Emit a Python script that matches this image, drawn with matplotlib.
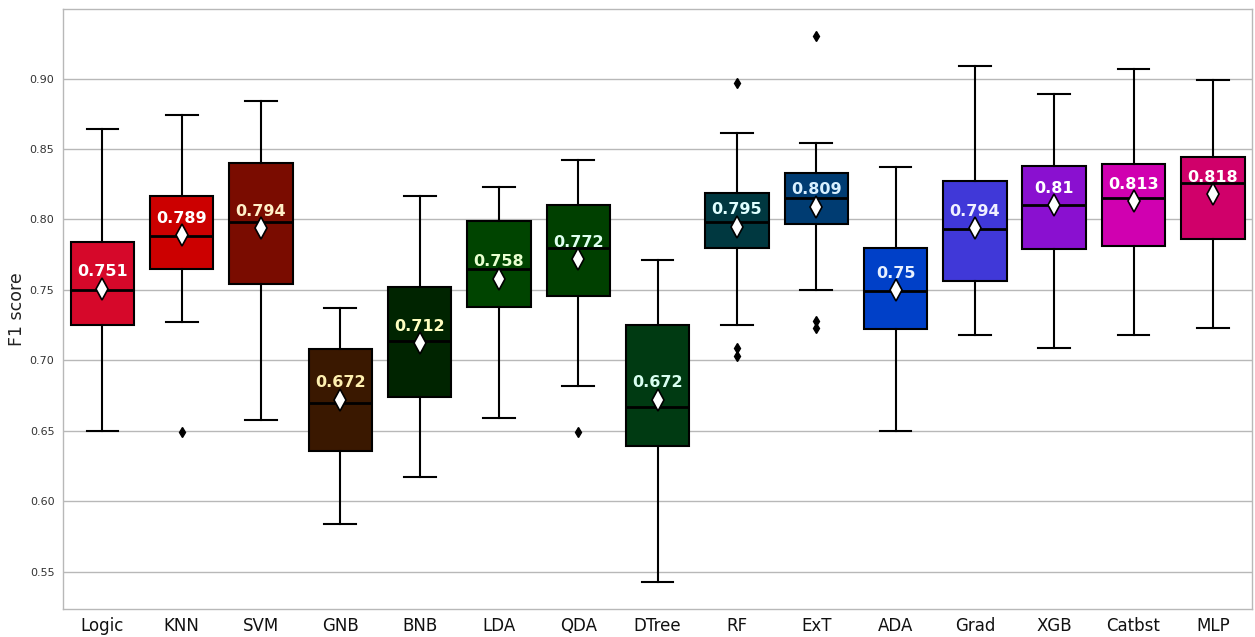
import matplotlib
matplotlib.use("Agg")
import matplotlib.pyplot as plt

models = ["Logic", "KNN", "SVM", "GNB", "BNB", "LDA", "QDA", "DTree", "RF", "ExT",
          "ADA", "Grad", "XGB", "Catbst", "MLP"]
whislo = [0.650, 0.727, 0.658, 0.584, 0.617, 0.659, 0.682, 0.543, 0.725, 0.750,
          0.650, 0.718, 0.709, 0.718, 0.723]
q1 = [0.725, 0.765, 0.754, 0.636, 0.674, 0.738, 0.746, 0.639, 0.780, 0.797,
      0.722, 0.756, 0.779, 0.781, 0.786]
med = [0.750, 0.788, 0.798, 0.670, 0.714, 0.765, 0.780, 0.667, 0.798, 0.815,
       0.749, 0.793, 0.810, 0.815, 0.826]
q3 = [0.784, 0.817, 0.840, 0.708, 0.752, 0.799, 0.810, 0.725, 0.819, 0.833,
      0.780, 0.827, 0.838, 0.839, 0.844]
whishi = [0.864, 0.874, 0.884, 0.737, 0.817, 0.823, 0.842, 0.771, 0.861, 0.854,
          0.837, 0.909, 0.889, 0.907, 0.899]
means = [0.751, 0.789, 0.794, 0.672, 0.712, 0.758, 0.772, 0.672, 0.795, 0.809,
         0.750, 0.794, 0.810, 0.813, 0.818]
fliers = [[], [0.649], [], [], [], [], [0.649], [], [0.897, 0.709, 0.703],
          [0.930, 0.728, 0.723], [], [], [], [], []]
box_colors = ["#d6082a", "#cc0000", "#7a0c00", "#3a1800", "#002400", "#004400",
              "#004000", "#003a12", "#003840", "#003c72", "#0040c8", "#4038d8",
              "#8a10d0", "#d000b0", "#d0006a"]
text_colors = ["#ffffff", "#ffffff", "#fff0c8", "#fff0b0", "#ffffc0", "#e8ffd0",
               "#e0fff0", "#d8fff0", "#e0ffff", "#d8f0ff", "#e8f0ff", "#f0f0ff",
               "#ffffff", "#ffffff", "#ffffff"]

stats = []
for i, m in enumerate(models):
    stats.append(dict(label=m, whislo=whislo[i], q1=q1[i], med=med[i], q3=q3[i],
                      whishi=whishi[i], mean=means[i], fliers=fliers[i]))

fig = plt.figure(figsize=(12.55, 6.37), dpi=100)
ax = fig.add_axes([0.050, 0.044, 0.948, 0.942])
ax.set_axisbelow(True)
ax.yaxis.grid(True, color="#b8b8b8", linewidth=1.0)

pos = list(range(len(models)))
bp = ax.bxp(stats, positions=pos, widths=0.8, patch_artist=True, showmeans=True,
            boxprops=dict(edgecolor="black", linewidth=1.5),
            whiskerprops=dict(color="black", linewidth=1.5),
            capprops=dict(color="black", linewidth=1.5),
            medianprops=dict(color="black", linewidth=2),
            meanprops=dict(marker="d", markerfacecolor="white", markeredgecolor="black",
                           markersize=11, markeredgewidth=1.2),
            flierprops=dict(marker="d", markerfacecolor="black", markeredgecolor="black",
                            markersize=5))
for patch, c in zip(bp["boxes"], box_colors):
    patch.set_facecolor(c)
for cap in bp["caps"]:
    xd = cap.get_xdata()
    cx = (xd[0] + xd[1]) / 2
    cap.set_xdata([cx - 0.2, cx + 0.2])

for i, m in enumerate(means):
    label = f"{m:g}"
    ax.text(pos[i], m + 0.012, label, ha="center", va="center", fontsize=11.5,
            fontweight="bold", color=text_colors[i])

ax.set_xlim(-0.5, len(models) - 0.5)
ax.set_ylim(0.5236, 0.9494)
ax.set_yticks([0.55, 0.60, 0.65, 0.70, 0.75, 0.80, 0.85, 0.90])
ax.set_yticklabels(["0.55", "0.60", "0.65", "0.70", "0.75", "0.80", "0.85", "0.90"])
ax.set_xticks(pos)
ax.set_xticklabels(models, fontsize=12)
ax.tick_params(axis="y", labelsize=8, length=0, pad=6, labelcolor="#333333")
ax.tick_params(axis="x", length=0, pad=6, labelcolor="#111111")
ax.set_ylabel("F1 score", fontsize=12.5, color="#222222")
ax.yaxis.set_label_coords(-0.031, 0.5)
for s in ax.spines.values():
    s.set_color("#b8b8b8")
    s.set_linewidth(1.0)

fig.savefig("out.png", dpi=100)
